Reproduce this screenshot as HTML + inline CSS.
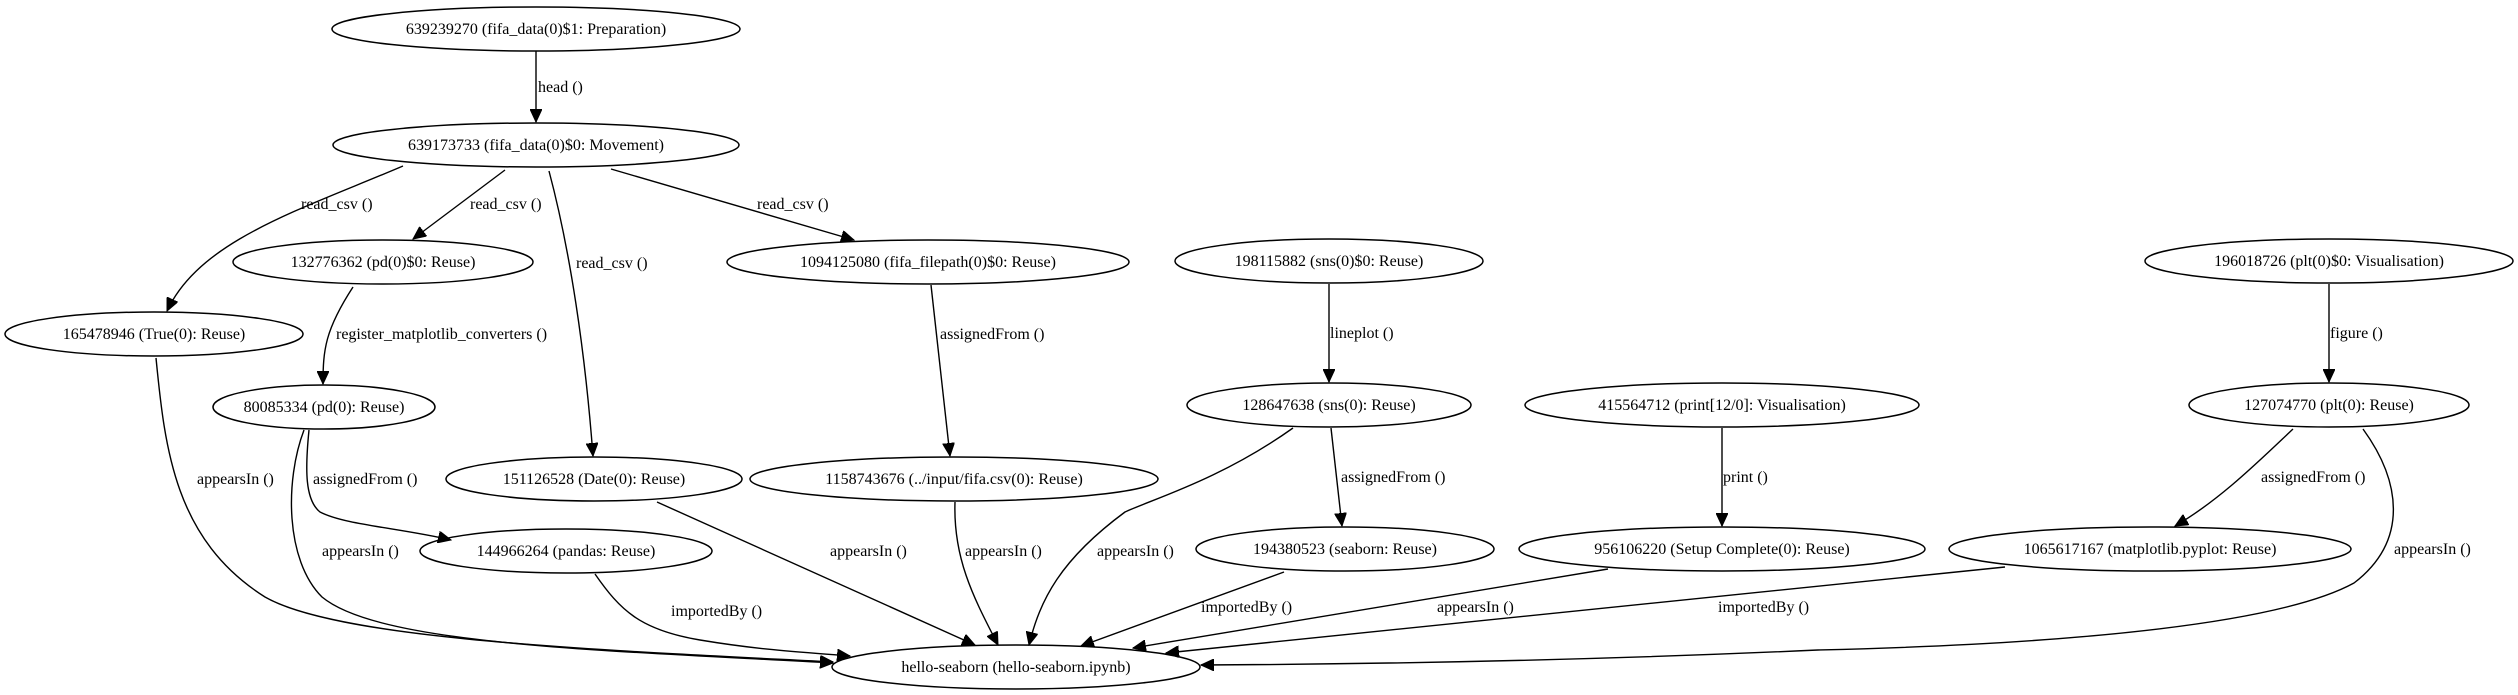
<!DOCTYPE html>
<html><head><meta charset="utf-8"><style>
html,body{margin:0;padding:0;background:#fff;}
svg{display:block;}
text{font-family:"Liberation Serif",serif;font-size:16px;fill:#000;}
.n{text-anchor:middle;}
ellipse{fill:none;stroke:#000;stroke-width:1.5;}
path{fill:none;stroke:#000;stroke-width:1.4;}
</style></head><body>
<svg width="2518" height="695" viewBox="0 0 2518 695" xmlns="http://www.w3.org/2000/svg">
<defs>
<marker id="a" markerUnits="userSpaceOnUse" markerWidth="14" markerHeight="12" refX="13" refY="6" orient="auto">
<path d="M0,0 L13,6 L0,12 Z" style="fill:#000;stroke:#000;stroke-width:1"/>
</marker>
</defs>

<!-- nodes -->
<ellipse cx="536" cy="29" rx="204" ry="22"/><text class="n" x="536" y="34">639239270 (fifa_data(0)$1: Preparation)</text>
<ellipse cx="536" cy="145" rx="203" ry="22"/><text class="n" x="536" y="150">639173733 (fifa_data(0)$0: Movement)</text>
<ellipse cx="383" cy="262" rx="150" ry="22"/><text class="n" x="383" y="267">132776362 (pd(0)$0: Reuse)</text>
<ellipse cx="154" cy="334" rx="149" ry="22"/><text class="n" x="154" y="339">165478946 (True(0): Reuse)</text>
<ellipse cx="324" cy="407" rx="111" ry="22"/><text class="n" x="324" y="412">80085334 (pd(0): Reuse)</text>
<ellipse cx="594" cy="479" rx="148" ry="22"/><text class="n" x="594" y="484">151126528 (Date(0): Reuse)</text>
<ellipse cx="928" cy="262" rx="201" ry="22"/><text class="n" x="928" y="267">1094125080 (fifa_filepath(0)$0: Reuse)</text>
<ellipse cx="954" cy="479" rx="204" ry="22"/><text class="n" x="954" y="484">1158743676 (../input/fifa.csv(0): Reuse)</text>
<ellipse cx="566" cy="551" rx="146" ry="22"/><text class="n" x="566" y="556">144966264 (pandas: Reuse)</text>
<ellipse cx="1016" cy="667" rx="184" ry="22"/><text class="n" x="1016" y="672">hello-seaborn (hello-seaborn.ipynb)</text>
<ellipse cx="1329" cy="261" rx="154" ry="22"/><text class="n" x="1329" y="266">198115882 (sns(0)$0: Reuse)</text>
<ellipse cx="1329" cy="405" rx="142" ry="22"/><text class="n" x="1329" y="410">128647638 (sns(0): Reuse)</text>
<ellipse cx="1722" cy="405" rx="197" ry="22"/><text class="n" x="1722" y="410">415564712 (print[12/0]: Visualisation)</text>
<ellipse cx="1345" cy="549" rx="149" ry="22"/><text class="n" x="1345" y="554">194380523 (seaborn: Reuse)</text>
<ellipse cx="1722" cy="549" rx="203" ry="22"/><text class="n" x="1722" y="554">956106220 (Setup Complete(0): Reuse)</text>
<ellipse cx="2329" cy="261" rx="184" ry="22"/><text class="n" x="2329" y="266">196018726 (plt(0)$0: Visualisation)</text>
<ellipse cx="2329" cy="405" rx="140" ry="22"/><text class="n" x="2329" y="410">127074770 (plt(0): Reuse)</text>
<ellipse cx="2150" cy="549" rx="201" ry="22"/><text class="n" x="2150" y="554">1065617167 (matplotlib.pyplot: Reuse)</text>

<!-- edges -->
<path d="M536,51 L536,122" marker-end="url(#a)"/><text x="538" y="92">head ()</text>
<path d="M403,166 C300,210 200,240 167,311" marker-end="url(#a)"/><text x="301" y="209">read_csv ()</text>
<path d="M505,170 L413,239" marker-end="url(#a)"/><text x="470" y="209">read_csv ()</text>
<path d="M549,171 C570,250 585,350 593,456" marker-end="url(#a)"/><text x="576" y="268">read_csv ()</text>
<path d="M611,169 L854,240" marker-end="url(#a)"/><text x="757" y="209">read_csv ()</text>
<path d="M353,287 C325,330 323,350 323,384" marker-end="url(#a)"/><text x="336" y="339">register_matplotlib_converters ()</text>
<path d="M931,285 L950,456" marker-end="url(#a)"/><text x="940" y="339">assignedFrom ()</text>
<path d="M309,430 C305,470 305,500 320,512 C345,525 400,528 451,540" marker-end="url(#a)"/><text x="313" y="484">assignedFrom ()</text>
<path d="M156,358 C165,450 175,540 265,597 C340,640 600,650 833,662" marker-end="url(#a)"/><text x="197" y="484">appearsIn ()</text>
<path d="M304,430 C285,480 285,560 322,597 C380,645 600,650 833,663" marker-end="url(#a)"/><text x="322" y="556">appearsIn ()</text>
<path d="M657,502 L975,645" marker-end="url(#a)"/><text x="830" y="556">appearsIn ()</text>
<path d="M595,574 C620,610 640,630 700,640 C760,650 800,652 850,656" marker-end="url(#a)"/><text x="671" y="616">importedBy ()</text>
<path d="M955,502 C953,560 975,600 998,645" marker-end="url(#a)"/><text x="965" y="556">appearsIn ()</text>
<path d="M1293,428 C1220,480 1150,500 1125,512 C1060,560 1040,600 1029,645" marker-end="url(#a)"/><text x="1097" y="556">appearsIn ()</text>
<path d="M1331,428 L1342,526" marker-end="url(#a)"/><text x="1341" y="482">assignedFrom ()</text>
<path d="M1284,572 L1081,646" marker-end="url(#a)"/><text x="1201" y="612">importedBy ()</text>
<path d="M1329,284 L1329,382" marker-end="url(#a)"/><text x="1330" y="338">lineplot ()</text>
<path d="M1722,428 L1722,526" marker-end="url(#a)"/><text x="1723" y="482">print ()</text>
<path d="M1608,569 L1133,648" marker-end="url(#a)"/><text x="1437" y="612">appearsIn ()</text>
<path d="M2005,567 L1166,653" marker-end="url(#a)"/><text x="1718" y="612">importedBy ()</text>
<path d="M2329,284 L2329,382" marker-end="url(#a)"/><text x="2330" y="338">figure ()</text>
<path d="M2293,429 C2260,460 2220,500 2175,526" marker-end="url(#a)"/><text x="2261" y="482">assignedFrom ()</text>
<path d="M2363,429 C2400,480 2410,540 2354,583 C2250,640 1900,648 1818,650 C1600,660 1400,664 1201,665" marker-end="url(#a)"/><text x="2394" y="554">appearsIn ()</text>
</svg>
</body></html>
